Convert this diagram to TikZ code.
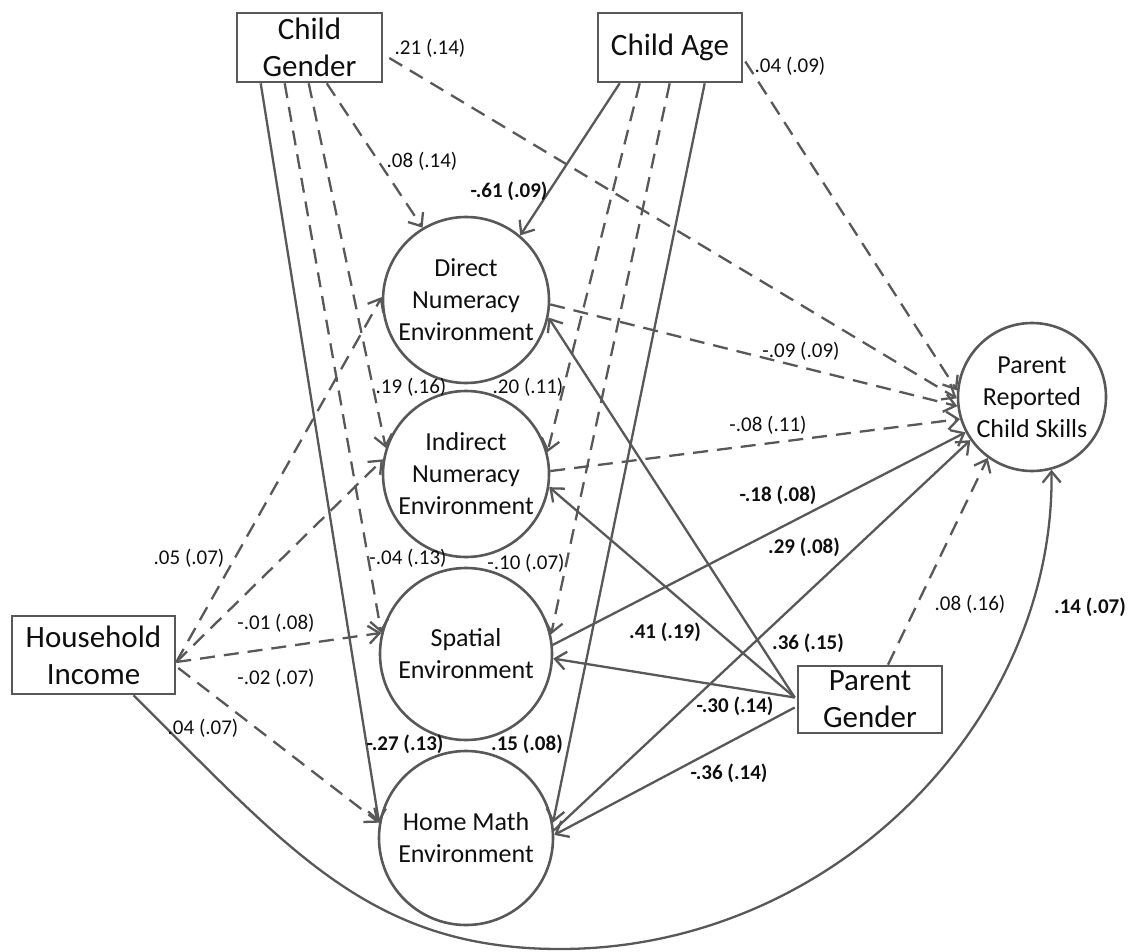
\documentclass[tikz,border=0pt]{standalone}
\usepackage{fontspec}
\setmainfont{Carlito}
\usetikzlibrary{arrows.meta,calc}
\definecolor{lc}{RGB}{88,88,88}
\definecolor{tc}{RGB}{15,15,15}
\begin{document}
\begin{tikzpicture}[x=1pt,y=-1pt,
  box/.style={draw=lc,line width=2.6pt,rectangle,inner sep=0pt,align=center,text=tc,font=\fontsize{31}{37}\selectfont},
  lat/.style={draw=lc,line width=2.6pt,circle,inner sep=0pt,align=center,text=tc,font=\fontsize{26}{32}\selectfont},
  arr/.style={draw=lc,line width=2.3pt,-{Straight Barb[length=11pt,width=18pt]}},
  darr/.style={arr,dash pattern=on 15pt off 9pt},
  lab/.style={inner sep=0pt,text=tc,font=\fontsize{21}{25}\selectfont},
  blab/.style={inner sep=0pt,text=tc,font=\fontsize{21}{25}\selectfont\bfseries}]
\useasboundingbox (0,0) rectangle (1141,952);

% observed variables
\node[box,minimum width=145pt,minimum height=69pt] (cg) at (309.5,47.5) {Child\\Gender};
\node[box,minimum width=144pt,minimum height=69pt] (ca) at (670,47.5) {Child Age};
\node[box,minimum width=163pt,minimum height=78pt] (hh) at (93.5,655) {Household\\Income};
\node[box,minimum width=144pt,minimum height=67pt] (pg) at (870,699.5) {Parent\\Gender};

% latent variables
\node[lat,minimum size=166pt] (dn) at (466,300) {Direct\\Numeracy\\Environment};
\node[lat,minimum size=166pt] (in) at (466,474) {Indirect\\Numeracy\\Environment};
\node[lat,minimum size=172pt] (sp) at (466,654) {Spatial\\Environment};
\node[lat,minimum size=174pt] (hm) at (466,838) {Home Math\\Environment};
\node[lat,minimum size=148pt] (prcs) at (1032,397) {Parent\\Reported\\Child Skills};

% Child Gender paths
\draw[arr]  ($(cg.south west)+(25,0)$) -- (hm.170);
\draw[darr] ($(cg.south west)+(49,0)$) -- (sp.166);
\draw[darr] ($(cg.south west)+(73,0)$) -- (in.162);
\draw[darr] ($(cg.south west)+(91,0)$) -- (dn.121);
\draw[darr] ($(cg.east)+(6,10.5)$) -- (prcs.181);

% Child Age paths
\draw[arr]  ($(ca.south west)+(23,0)$) -- (dn.50);
\draw[darr] ($(ca.south west)+(43,0)$) -- (in.15);
\draw[darr] ($(ca.south west)+(73,0)$) -- (sp.13);
\draw[arr]  ($(ca.south west)+(108,0)$) -- (hm.10);
\draw[darr] ($(ca.east)+(2,14)$) -- (prcs.175);

% Household Income paths
\draw[darr] ($(hh.east)+(0,7)$) -- (dn.178);
\draw[darr] ($(hh.east)+(0,7)$) -- (in.170);
\draw[darr] ($(hh.east)+(0,7)$) -- (sp.166);
\draw[darr] ($(hh.east)+(2,13)$) -- (hm.170);
\coordinate (cb) at (560,949);
\draw[arr] ($(hh.south)+(40,0)$) .. controls (290,850) and (370,949) .. (cb)
  .. controls (833,949) and (1055,721) .. (prcs.285);

% Parent Gender paths
\draw[arr]  ($(pg.west)+(-2,-2)$) -- (dn.-12);
\draw[arr]  ($(pg.west)+(-2,-2)$) -- (in.-9);
\draw[arr]  ($(pg.west)+(-2,-2)$) -- (sp.-3);
\draw[arr]  ($(pg.west)+(-2,8)$) -- (hm.2);
\draw[darr] ($(pg.north)+(18,0)$) -- (prcs.234);

% Environments to outcome
\draw[darr] (dn.-3) -- (prcs.187);
\draw[darr] (in.2) -- (prcs.197);
\draw[arr]  (sp.6) -- (prcs.208);
\draw[arr]  (hm.5) -- (prcs.215);

% labels
\node[lab]  (l1)  at (430,48)  {.21 (.14)};
\node[lab]  (l2)  at (790,66)  {.04 (.09)};
\node[lab]  (l3)  at (422,161) {.08 (.14)};
\node[blab] (l4)  at (509,191) {-.61 (.09)};
\node[lab]  (l5)  at (411,387) {.19 (.16)};
\node[lab]  (l6)  at (528,387) {.20 (.11)};
\node[lab]  (l7)  at (801,351) {-.09 (.09)};
\node[lab]  (l8)  at (768,425) {-.08 (.11)};
\node[blab] (l9)  at (778,495) {-.18 (.08)};
\node[blab] (l10) at (804,547) {.29 (.08)};
\node[lab]  (l11) at (189,558) {.05 (.07)};
\node[lab]  (l12) at (408,558) {-.04 (.13)};
\node[lab]  (l13) at (526,563) {-.10 (.07)};
\node[lab]  (l14) at (970,604) {.08 (.16)};
\node[blab] (l15) at (1090,607) {.14 (.07)};
\node[lab]  (l16) at (276,623) {-.01 (.08)};
\node[blab] (l17) at (665,632) {.41 (.19)};
\node[blab] (l18) at (808,643) {.36 (.15)};
\node[lab]  (l19) at (276,678) {-.02 (.07)};
\node[blab] (l20) at (735,706) {-.30 (.14)};
\node[lab]  (l21) at (203,728) {.04 (.07)};
\node[blab] (l22) at (405,744) {-.27 (.13)};
\node[blab] (l23) at (527,744) {.15 (.08)};
\node[blab] (l24) at (729,773) {-.36 (.14)};
\end{tikzpicture}
\end{document}
